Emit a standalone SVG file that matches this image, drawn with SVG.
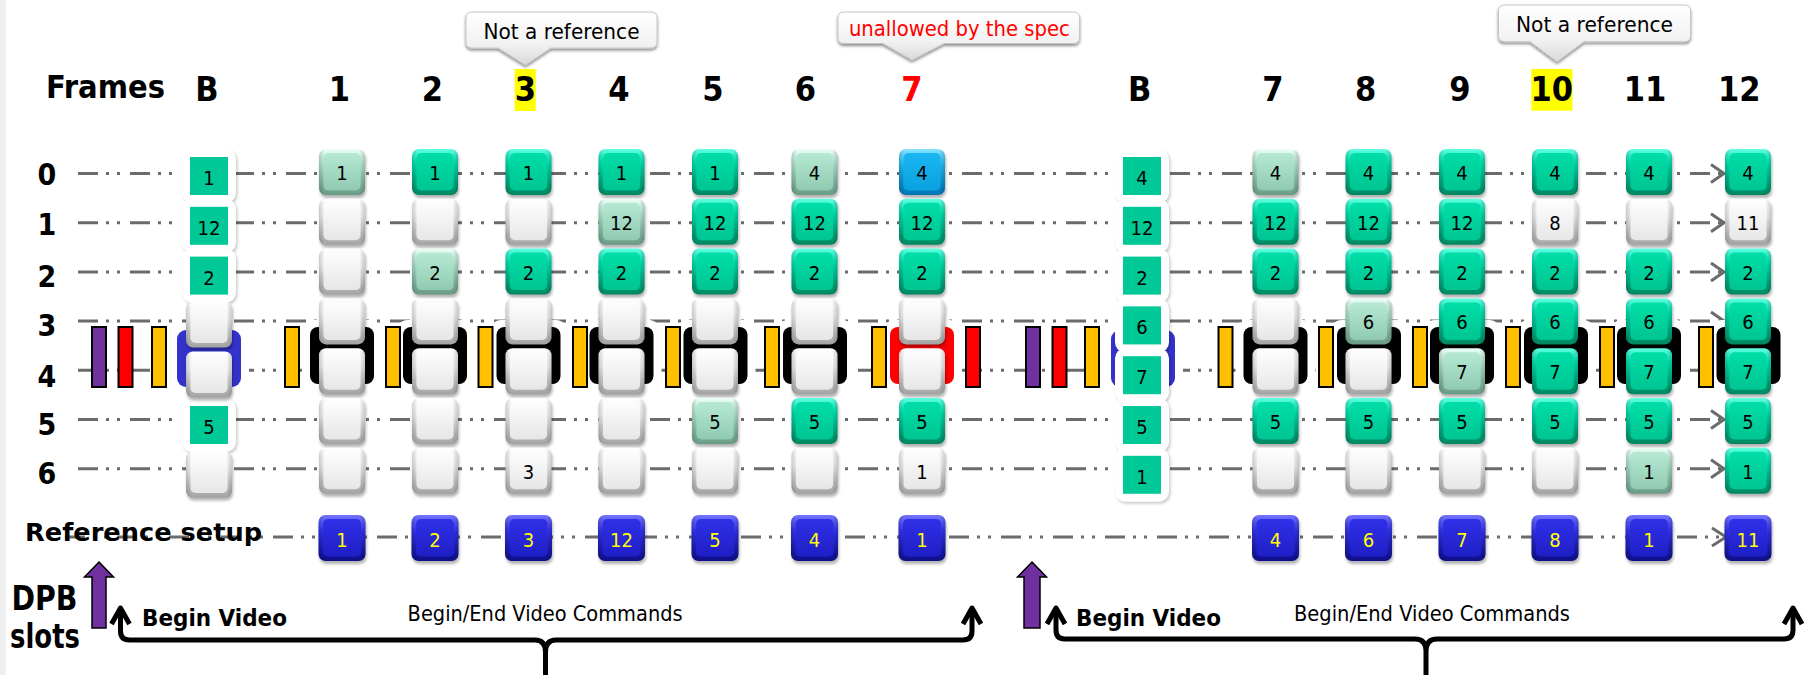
<svg xmlns="http://www.w3.org/2000/svg" width="1804" height="675" viewBox="0 0 1804 675">
<defs>
<style>
.hd{font-family:"DejaVu Sans Condensed","DejaVu Sans",sans-serif;font-weight:bold;font-size:34px;text-anchor:middle;fill:#000}
.rl{font-family:"DejaVu Sans Condensed","DejaVu Sans",sans-serif;font-weight:bold;font-size:30px;text-anchor:middle;fill:#000}
.bl{font-family:"DejaVu Sans Condensed","DejaVu Sans",sans-serif;font-weight:bold;fill:#000}
.nm{font-family:"DejaVu Sans Condensed","DejaVu Sans",sans-serif;fill:#000}
.bt{font-family:"DejaVu Sans Condensed","DejaVu Sans",sans-serif;font-size:20px;text-anchor:middle;fill:#000}
.rt{font-family:"DejaVu Sans Condensed","DejaVu Sans",sans-serif;font-size:20px;text-anchor:middle;fill:#ff0}
.ct{font-family:"DejaVu Sans Condensed","DejaVu Sans",sans-serif;font-size:21px;text-anchor:middle;fill:#000}
.ln{fill:none;stroke:#6b6b6b;stroke-width:3;stroke-dasharray:20 8 3 8 3 10}
.ah{fill:none;stroke:#6b6b6b;stroke-width:3}
.bar{stroke:#000;stroke-width:2}
.br{fill:none;stroke:#000;stroke-width:5;stroke-linejoin:round}
.call{fill:url(#callG);stroke:#c6c6c6;stroke-width:1;filter:url(#csh)}
.flat{fill:#00c896}
.side{fill:url(#sideG)}
</style>
<filter id="sh" x="-30%" y="-30%" width="160%" height="170%"><feGaussianBlur stdDeviation="1.6"/></filter>
<filter id="csh" x="-10%" y="-30%" width="120%" height="170%"><feDropShadow dx="0" dy="2" stdDeviation="1.5" flood-color="#000" flood-opacity="0.45"/></filter>
<linearGradient id="callG" x1="0" y1="0" x2="0" y2="1"><stop offset="0" stop-color="#ffffff"/><stop offset="0.6" stop-color="#f2f2f2"/><stop offset="1" stop-color="#d9d9d9"/></linearGradient>
<linearGradient id="sideG" x1="0" y1="0" x2="1" y2="0"><stop offset="0" stop-color="#000" stop-opacity="0.16"/><stop offset="0.12" stop-color="#000" stop-opacity="0"/><stop offset="0.88" stop-color="#000" stop-opacity="0"/><stop offset="1" stop-color="#000" stop-opacity="0.16"/></linearGradient>
<linearGradient id="gRim" x1="0" y1="0" x2="0" y2="1"><stop offset="0" stop-color="#62ffe2"/><stop offset="0.3" stop-color="#00e2b0"/><stop offset="1" stop-color="#008660"/></linearGradient>
<linearGradient id="gFace" x1="0" y1="0" x2="0" y2="1"><stop offset="0" stop-color="#00dea8"/><stop offset="1" stop-color="#00c592"/></linearGradient>
<linearGradient id="wRim" x1="0" y1="0" x2="0" y2="1"><stop offset="0" stop-color="#ffffff"/><stop offset="0.4" stop-color="#ececec"/><stop offset="1" stop-color="#a2a2a2"/></linearGradient>
<linearGradient id="wFace" x1="0" y1="0" x2="0" y2="1"><stop offset="0" stop-color="#fdfdfd"/><stop offset="1" stop-color="#e6e6e6"/></linearGradient>
<linearGradient id="pRim" x1="0" y1="0" x2="0" y2="1"><stop offset="0" stop-color="#ecfff7"/><stop offset="0.35" stop-color="#aee2cc"/><stop offset="1" stop-color="#689a84"/></linearGradient>
<linearGradient id="pFace" x1="0" y1="0" x2="0" y2="1"><stop offset="0" stop-color="#b6e9d3"/><stop offset="1" stop-color="#90cab2"/></linearGradient>
<linearGradient id="cRim" x1="0" y1="0" x2="0" y2="1"><stop offset="0" stop-color="#86e4ff"/><stop offset="0.35" stop-color="#20baf2"/><stop offset="1" stop-color="#0074b4"/></linearGradient>
<linearGradient id="cFace" x1="0" y1="0" x2="0" y2="1"><stop offset="0" stop-color="#1ab6f2"/><stop offset="1" stop-color="#0aa2e0"/></linearGradient>
<linearGradient id="bRim" x1="0" y1="0" x2="0" y2="1"><stop offset="0" stop-color="#7474ff"/><stop offset="0.35" stop-color="#3232ea"/><stop offset="1" stop-color="#0e0e86"/></linearGradient>
<linearGradient id="bFace" x1="0" y1="0" x2="0" y2="1"><stop offset="0" stop-color="#3030e8"/><stop offset="1" stop-color="#1f1fc6"/></linearGradient>
<!-- glossy slot tiles, 46 x 46 -->
<g id="bG"><rect x="1" y="3" width="46" height="46" rx="7" fill="#000" opacity="0.3" filter="url(#sh)"/><rect width="46" height="46" rx="7" fill="url(#gRim)"/><rect class="side" width="46" height="46" rx="7"/><rect x="4.5" y="4" width="37" height="37.5" rx="5" fill="url(#gFace)"/></g>
<g id="bW"><rect x="1" y="3" width="46" height="46" rx="7" fill="#000" opacity="0.3" filter="url(#sh)"/><rect width="46" height="46" rx="7" fill="url(#wRim)"/><rect class="side" width="46" height="46" rx="7"/><rect x="4.5" y="4" width="37" height="37.5" rx="5" fill="url(#wFace)"/></g>
<g id="bP"><rect x="1" y="3" width="46" height="46" rx="7" fill="#000" opacity="0.3" filter="url(#sh)"/><rect width="46" height="46" rx="7" fill="url(#pRim)"/><rect class="side" width="46" height="46" rx="7"/><rect x="4.5" y="4" width="37" height="37.5" rx="5" fill="url(#pFace)"/></g>
<g id="bC"><rect x="1" y="3" width="46" height="46" rx="7" fill="#000" opacity="0.3" filter="url(#sh)"/><rect width="46" height="46" rx="7" fill="url(#cRim)"/><rect class="side" width="46" height="46" rx="7"/><rect x="4.5" y="4" width="37" height="37.5" rx="5" fill="url(#cFace)"/></g>
<g id="bB"><rect x="1" y="3" width="47" height="46" rx="7" fill="#000" opacity="0.3" filter="url(#sh)"/><rect width="47" height="46" rx="7" fill="url(#bRim)"/><rect class="side" width="47" height="46" rx="7"/><rect x="4.5" y="4" width="38" height="37.5" rx="5" fill="url(#bFace)"/></g>
<!-- white frame around a flat begin-video slot -->
<g id="fr"><rect x="1.5" y="2" width="54" height="54" rx="10" fill="#000" opacity="0.2" filter="url(#sh)"/><rect width="54" height="54" rx="10" fill="#fff"/></g>
<!-- black bracket behind slots 3/4 -->
<g id="hk"><rect x="-40" y="320" width="80" height="71" rx="13" fill="#fff"/><rect x="-32" y="327" width="64" height="57" rx="8" fill="#000"/></g>
<g id="hr"><rect x="-40" y="320" width="80" height="71" rx="13" fill="#fff"/><rect x="-32" y="327" width="64" height="57" rx="8" fill="#f00"/></g>
<g id="hb"><rect x="-40" y="323" width="80" height="72" rx="13" fill="#fff"/><rect x="-32" y="330" width="64" height="57" rx="9" fill="#3333cc"/></g>
</defs>

<rect width="1804" height="675" fill="#fff"/>
<rect width="6" height="675" fill="#efefef"/>

<!-- header -->
<g id="header">
<text class="bl" x="46" y="98" font-size="32" textLength="119" lengthAdjust="spacingAndGlyphs">Frames</text>
<rect x="514.7" y="69" width="21" height="42" fill="#ffff00"/>
<rect x="1531.3" y="69" width="41.2" height="41.7" fill="#ffff00"/>
<text class="hd" x="207" y="101">B</text>
<text class="hd" x="339.5" y="101">1</text>
<text class="hd" x="432.5" y="101">2</text>
<text class="hd" x="525.4" y="101">3</text>
<text class="hd" x="619" y="101">4</text>
<text class="hd" x="713" y="101">5</text>
<text class="hd" x="805.5" y="101">6</text>
<text class="hd" x="912" y="101" style="fill:#f00">7</text>
<text class="hd" x="1139.6" y="101">B</text>
<text class="hd" x="1273" y="101">7</text>
<text class="hd" x="1365.6" y="101">8</text>
<text class="hd" x="1460" y="101">9</text>
<text class="hd" x="1551.7" y="101">10</text>
<text class="hd" x="1645" y="101">11</text>
<text class="hd" x="1739.3" y="101">12</text>
</g>

<!-- callouts -->
<g id="callout-3">
<path class="call" d="M472,12 H651 Q657,12 657,18 V42 Q657,48 651,48 H551 L525.5,65 L498,48 H472 Q466,48 466,42 V18 Q466,12 472,12 Z"/>
<text class="ct" x="561.5" y="39" textLength="156" lengthAdjust="spacingAndGlyphs">Not a reference</text>
</g>
<g id="callout-7">
<path class="call" d="M844,12 H1073.5 Q1079.5,12 1079.5,18 V37.5 Q1079.5,43.5 1073.5,43.5 H944 L912,60 L883,43.5 H844 Q838,43.5 838,37.5 V18 Q838,12 844,12 Z"/>
<text class="ct" x="959.4" y="36" style="fill:#f00" textLength="221" lengthAdjust="spacingAndGlyphs">unallowed by the spec</text>
</g>
<g id="callout-10">
<path class="call" d="M1504.5,5 H1684.5 Q1690.5,5 1690.5,11 V35.7 Q1690.5,41.7 1684.5,41.7 H1584 L1557,61.7 L1530,41.7 H1504.5 Q1498.5,41.7 1498.5,35.7 V11 Q1498.5,5 1504.5,5 Z"/>
<text class="ct" x="1594.5" y="32" textLength="157" lengthAdjust="spacingAndGlyphs">Not a reference</text>
</g>

<!-- slot row labels -->
<g id="slot-labels">
<text class="rl" x="47" y="185">0</text>
<text class="rl" x="47" y="235">1</text>
<text class="rl" x="47" y="286.5">2</text>
<text class="rl" x="47" y="336">3</text>
<text class="rl" x="47" y="386.5">4</text>
<text class="rl" x="47" y="435">5</text>
<text class="rl" x="47" y="484">6</text>
</g>

<!-- slot timelines -->
<g id="connectors">
<path class="ln" d="M78,173.5 H1722"/>
<path class="ln" d="M78,222.7 H1722"/>
<path class="ln" d="M78,271.9 H1722"/>
<path class="ln" d="M78,321.1 H1722"/>
<path class="ln" d="M78,370.3 H1722"/>
<path class="ln" d="M78,419.5 H1722"/>
<path class="ln" d="M78,468.7 H1722"/>
<path class="ln" d="M65,537 H1724"/>
<path class="ah" d="M1711,164.5 L1724,173.5 L1711,182.5"/>
<path class="ah" d="M1711,213.7 L1724,222.7 L1711,231.7"/>
<path class="ah" d="M1711,262.9 L1724,271.9 L1711,280.9"/>
<path class="ah" d="M1711,312.1 L1724,321.1 L1711,330.1"/>
<path class="ah" d="M1711,361.3 L1724,370.3 L1711,379.3"/>
<path class="ah" d="M1711,410.5 L1724,419.5 L1711,428.5"/>
<path class="ah" d="M1711,459.7 L1724,468.7 L1711,477.7"/>
<path class="ah" d="M1712,528 L1726,537 L1712,546"/>
</g>

<!-- brackets behind slots 3/4 -->
<g id="brackets">
<use href="#hk" x="342"/>
<use href="#hk" x="435"/>
<use href="#hk" x="528.5"/>
<use href="#hk" x="621.5"/>
<use href="#hk" x="715.5"/>
<use href="#hk" x="815"/>
<use href="#hr" x="922"/>
<use href="#hk" x="1275.5"/>
<use href="#hk" x="1369"/>
<use href="#hk" x="1462"/>
<use href="#hk" x="1556"/>
<use href="#hk" x="1649"/>
<use href="#hk" x="1748.5"/>
</g>

<!-- command markers -->
<g id="markers">
<rect class="bar" x="92" y="327" width="14" height="60" fill="#7030a0"/>
<rect class="bar" x="118.5" y="327" width="14" height="60" fill="#ff0000"/>
<rect class="bar" x="152" y="327" width="14" height="60" fill="#ffc000"/>
<rect class="bar" x="285" y="327" width="14" height="60" fill="#ffc000"/>
<rect class="bar" x="386" y="327" width="14" height="60" fill="#ffc000"/>
<rect class="bar" x="478.5" y="327" width="14" height="60" fill="#ffc000"/>
<rect class="bar" x="573" y="327" width="14" height="60" fill="#ffc000"/>
<rect class="bar" x="666" y="327" width="14" height="60" fill="#ffc000"/>
<rect class="bar" x="765" y="327" width="14" height="60" fill="#ffc000"/>
<rect class="bar" x="872" y="327" width="14" height="60" fill="#ffc000"/>
<rect class="bar" x="966" y="327" width="14" height="60" fill="#ff0000"/>
<rect class="bar" x="1026" y="327" width="14" height="60" fill="#7030a0"/>
<rect class="bar" x="1052.5" y="327" width="14" height="60" fill="#ff0000"/>
<rect class="bar" x="1085" y="327" width="14" height="60" fill="#ffc000"/>
<rect class="bar" x="1218.5" y="327" width="14" height="60" fill="#ffc000"/>
<rect class="bar" x="1319" y="327" width="14" height="60" fill="#ffc000"/>
<rect class="bar" x="1413" y="327" width="14" height="60" fill="#ffc000"/>
<rect class="bar" x="1506" y="327" width="14" height="60" fill="#ffc000"/>
<rect class="bar" x="1600" y="327" width="14" height="60" fill="#ffc000"/>
<rect class="bar" x="1699" y="327" width="14" height="60" fill="#ffc000"/>
</g>

<!-- begin video state, first sequence -->
<g id="frame-B1">
<g id="B1s0"><use href="#fr" x="182" y="149"/><rect class="flat" x="190" y="157" width="38" height="38"/><text class="bt" x="209" y="185">1</text></g>
<g id="B1s1"><use href="#fr" x="182" y="198.8"/><rect class="flat" x="190" y="206.8" width="38" height="38"/><text class="bt" x="209" y="234.8">12</text></g>
<g id="B1s2"><use href="#fr" x="182" y="248.6"/><rect class="flat" x="190" y="256.6" width="38" height="38"/><text class="bt" x="209" y="284.6">2</text></g>
<g id="B1s5"><use href="#fr" x="182" y="398"/><rect class="flat" x="190" y="406" width="38" height="38"/><text class="bt" x="209" y="434">5</text></g>
<use href="#hb" x="209"/>
<use id="B1s3" href="#bW" x="186" y="301.5"/>
<use id="B1s4" href="#bW" x="186" y="351.5"/>
<use id="B1s6" href="#bW" x="186" y="451.5"/>
</g>

<!-- frame 1 -->
<g id="frame-1">
<g id="f1s0"><use href="#bP" x="319" y="149"/><text class="bt" x="342" y="180">1</text></g>
<use id="f1s1" href="#bW" x="319" y="198.8"/>
<use id="f1s2" href="#bW" x="319" y="248.6"/>
<use id="f1s3" href="#bW" x="319" y="298.4"/>
<use id="f1s4" href="#bW" x="319" y="348.2"/>
<use id="f1s5" href="#bW" x="319" y="398"/>
<use id="f1s6" href="#bW" x="319" y="447.8"/>
</g>
<!-- frame 2 -->
<g id="frame-2">
<g id="f2s0"><use href="#bG" x="412" y="149"/><text class="bt" x="435" y="180">1</text></g>
<use id="f2s1" href="#bW" x="412" y="198.8"/>
<g id="f2s2"><use href="#bP" x="412" y="248.6"/><text class="bt" x="435" y="279.6">2</text></g>
<use id="f2s3" href="#bW" x="412" y="298.4"/>
<use id="f2s4" href="#bW" x="412" y="348.2"/>
<use id="f2s5" href="#bW" x="412" y="398"/>
<use id="f2s6" href="#bW" x="412" y="447.8"/>
</g>
<!-- frame 3 -->
<g id="frame-3">
<g id="f3s0"><use href="#bG" x="505.5" y="149"/><text class="bt" x="528.5" y="180">1</text></g>
<use id="f3s1" href="#bW" x="505.5" y="198.8"/>
<g id="f3s2"><use href="#bG" x="505.5" y="248.6"/><text class="bt" x="528.5" y="279.6">2</text></g>
<use id="f3s3" href="#bW" x="505.5" y="298.4"/>
<use id="f3s4" href="#bW" x="505.5" y="348.2"/>
<use id="f3s5" href="#bW" x="505.5" y="398"/>
<g id="f3s6"><use href="#bW" x="505.5" y="447.8"/><text class="bt" x="528.5" y="478.8">3</text></g>
</g>
<!-- frame 4 -->
<g id="frame-4">
<g id="f4s0"><use href="#bG" x="598.5" y="149"/><text class="bt" x="621.5" y="180">1</text></g>
<g id="f4s1"><use href="#bP" x="598.5" y="198.8"/><text class="bt" x="621.5" y="229.8">12</text></g>
<g id="f4s2"><use href="#bG" x="598.5" y="248.6"/><text class="bt" x="621.5" y="279.6">2</text></g>
<use id="f4s3" href="#bW" x="598.5" y="298.4"/>
<use id="f4s4" href="#bW" x="598.5" y="348.2"/>
<use id="f4s5" href="#bW" x="598.5" y="398"/>
<use id="f4s6" href="#bW" x="598.5" y="447.8"/>
</g>
<!-- frame 5 -->
<g id="frame-5">
<g id="f5s0"><use href="#bG" x="692" y="149"/><text class="bt" x="715" y="180">1</text></g>
<g id="f5s1"><use href="#bG" x="692" y="198.8"/><text class="bt" x="715" y="229.8">12</text></g>
<g id="f5s2"><use href="#bG" x="692" y="248.6"/><text class="bt" x="715" y="279.6">2</text></g>
<use id="f5s3" href="#bW" x="692" y="298.4"/>
<use id="f5s4" href="#bW" x="692" y="348.2"/>
<g id="f5s5"><use href="#bP" x="692" y="398"/><text class="bt" x="715" y="429">5</text></g>
<use id="f5s6" href="#bW" x="692" y="447.8"/>
</g>
<!-- frame 6 -->
<g id="frame-6">
<g id="f6s0"><use href="#bP" x="791.5" y="149"/><text class="bt" x="814.5" y="180">4</text></g>
<g id="f6s1"><use href="#bG" x="791.5" y="198.8"/><text class="bt" x="814.5" y="229.8">12</text></g>
<g id="f6s2"><use href="#bG" x="791.5" y="248.6"/><text class="bt" x="814.5" y="279.6">2</text></g>
<use id="f6s3" href="#bW" x="791.5" y="298.4"/>
<use id="f6s4" href="#bW" x="791.5" y="348.2"/>
<g id="f6s5"><use href="#bG" x="791.5" y="398"/><text class="bt" x="814.5" y="429">5</text></g>
<use id="f6s6" href="#bW" x="791.5" y="447.8"/>
</g>
<!-- frame 7 (first sequence) -->
<g id="frame-7a">
<g id="f7as0"><use href="#bC" x="899" y="149"/><text class="bt" x="922" y="180">4</text></g>
<g id="f7as1"><use href="#bG" x="899" y="198.8"/><text class="bt" x="922" y="229.8">12</text></g>
<g id="f7as2"><use href="#bG" x="899" y="248.6"/><text class="bt" x="922" y="279.6">2</text></g>
<use id="f7as3" href="#bW" x="899" y="298.4"/>
<use id="f7as4" href="#bW" x="899" y="348.2"/>
<g id="f7as5"><use href="#bG" x="899" y="398"/><text class="bt" x="922" y="429">5</text></g>
<g id="f7as6"><use href="#bW" x="899" y="447.8"/><text class="bt" x="922" y="478.8">1</text></g>
</g>

<!-- begin video state, second sequence -->
<g id="frame-B2">
<use href="#hb" x="1143"/>
<g id="B2s0"><use href="#fr" x="1115" y="149"/><rect class="flat" x="1123" y="157" width="38" height="38"/><text class="bt" x="1142" y="185">4</text></g>
<g id="B2s1"><use href="#fr" x="1115" y="198.8"/><rect class="flat" x="1123" y="206.8" width="38" height="38"/><text class="bt" x="1142" y="234.8">12</text></g>
<g id="B2s2"><use href="#fr" x="1115" y="248.6"/><rect class="flat" x="1123" y="256.6" width="38" height="38"/><text class="bt" x="1142" y="284.6">2</text></g>
<g id="B2s3"><use href="#fr" x="1115" y="298.4"/><rect class="flat" x="1123" y="306.4" width="38" height="38"/><text class="bt" x="1142" y="334.4">6</text></g>
<g id="B2s4"><use href="#fr" x="1115" y="348.2"/><rect class="flat" x="1123" y="356.2" width="38" height="38"/><text class="bt" x="1142" y="384.2">7</text></g>
<g id="B2s5"><use href="#fr" x="1115" y="398"/><rect class="flat" x="1123" y="406" width="38" height="38"/><text class="bt" x="1142" y="434">5</text></g>
<g id="B2s6"><use href="#fr" x="1115" y="447.8"/><rect class="flat" x="1123" y="455.8" width="38" height="38"/><text class="bt" x="1142" y="483.8">1</text></g>
</g>

<!-- frame 7 (second sequence) -->
<g id="frame-7b">
<g id="f7bs0"><use href="#bP" x="1252.5" y="149"/><text class="bt" x="1275.5" y="180">4</text></g>
<g id="f7bs1"><use href="#bG" x="1252.5" y="198.8"/><text class="bt" x="1275.5" y="229.8">12</text></g>
<g id="f7bs2"><use href="#bG" x="1252.5" y="248.6"/><text class="bt" x="1275.5" y="279.6">2</text></g>
<use id="f7bs3" href="#bW" x="1252.5" y="298.4"/>
<use id="f7bs4" href="#bW" x="1252.5" y="348.2"/>
<g id="f7bs5"><use href="#bG" x="1252.5" y="398"/><text class="bt" x="1275.5" y="429">5</text></g>
<use id="f7bs6" href="#bW" x="1252.5" y="447.8"/>
</g>
<!-- frame 8 -->
<g id="frame-8">
<g id="f8s0"><use href="#bG" x="1345.5" y="149"/><text class="bt" x="1368.5" y="180">4</text></g>
<g id="f8s1"><use href="#bG" x="1345.5" y="198.8"/><text class="bt" x="1368.5" y="229.8">12</text></g>
<g id="f8s2"><use href="#bG" x="1345.5" y="248.6"/><text class="bt" x="1368.5" y="279.6">2</text></g>
<g id="f8s3"><use href="#bP" x="1345.5" y="298.4"/><text class="bt" x="1368.5" y="329.4">6</text></g>
<use id="f8s4" href="#bW" x="1345.5" y="348.2"/>
<g id="f8s5"><use href="#bG" x="1345.5" y="398"/><text class="bt" x="1368.5" y="429">5</text></g>
<use id="f8s6" href="#bW" x="1345.5" y="447.8"/>
</g>
<!-- frame 9 -->
<g id="frame-9">
<g id="f9s0"><use href="#bG" x="1439" y="149"/><text class="bt" x="1462" y="180">4</text></g>
<g id="f9s1"><use href="#bG" x="1439" y="198.8"/><text class="bt" x="1462" y="229.8">12</text></g>
<g id="f9s2"><use href="#bG" x="1439" y="248.6"/><text class="bt" x="1462" y="279.6">2</text></g>
<g id="f9s3"><use href="#bG" x="1439" y="298.4"/><text class="bt" x="1462" y="329.4">6</text></g>
<g id="f9s4"><use href="#bP" x="1439" y="348.2"/><text class="bt" x="1462" y="379.2">7</text></g>
<g id="f9s5"><use href="#bG" x="1439" y="398"/><text class="bt" x="1462" y="429">5</text></g>
<use id="f9s6" href="#bW" x="1439" y="447.8"/>
</g>
<!-- frame 10 -->
<g id="frame-10">
<g id="f10s0"><use href="#bG" x="1532" y="149"/><text class="bt" x="1555" y="180">4</text></g>
<g id="f10s1"><use href="#bW" x="1532" y="198.8"/><text class="bt" x="1555" y="229.8">8</text></g>
<g id="f10s2"><use href="#bG" x="1532" y="248.6"/><text class="bt" x="1555" y="279.6">2</text></g>
<g id="f10s3"><use href="#bG" x="1532" y="298.4"/><text class="bt" x="1555" y="329.4">6</text></g>
<g id="f10s4"><use href="#bG" x="1532" y="348.2"/><text class="bt" x="1555" y="379.2">7</text></g>
<g id="f10s5"><use href="#bG" x="1532" y="398"/><text class="bt" x="1555" y="429">5</text></g>
<use id="f10s6" href="#bW" x="1532" y="447.8"/>
</g>
<!-- frame 11 -->
<g id="frame-11">
<g id="f11s0"><use href="#bG" x="1626" y="149"/><text class="bt" x="1649" y="180">4</text></g>
<use id="f11s1" href="#bW" x="1626" y="198.8"/>
<g id="f11s2"><use href="#bG" x="1626" y="248.6"/><text class="bt" x="1649" y="279.6">2</text></g>
<g id="f11s3"><use href="#bG" x="1626" y="298.4"/><text class="bt" x="1649" y="329.4">6</text></g>
<g id="f11s4"><use href="#bG" x="1626" y="348.2"/><text class="bt" x="1649" y="379.2">7</text></g>
<g id="f11s5"><use href="#bG" x="1626" y="398"/><text class="bt" x="1649" y="429">5</text></g>
<g id="f11s6"><use href="#bP" x="1626" y="447.8"/><text class="bt" x="1649" y="478.8">1</text></g>
</g>
<!-- frame 12 -->
<g id="frame-12">
<g id="f12s0"><use href="#bG" x="1725" y="149"/><text class="bt" x="1748" y="180">4</text></g>
<g id="f12s1"><use href="#bW" x="1725" y="198.8"/><text class="bt" x="1748" y="229.8">11</text></g>
<g id="f12s2"><use href="#bG" x="1725" y="248.6"/><text class="bt" x="1748" y="279.6">2</text></g>
<g id="f12s3"><use href="#bG" x="1725" y="298.4"/><text class="bt" x="1748" y="329.4">6</text></g>
<g id="f12s4"><use href="#bG" x="1725" y="348.2"/><text class="bt" x="1748" y="379.2">7</text></g>
<g id="f12s5"><use href="#bG" x="1725" y="398"/><text class="bt" x="1748" y="429">5</text></g>
<g id="f12s6"><use href="#bG" x="1725" y="447.8"/><text class="bt" x="1748" y="478.8">1</text></g>
</g>

<!-- reference setup row -->
<g id="reference-setup">
<text class="bl" x="25" y="541" font-size="24.5" textLength="237" lengthAdjust="spacingAndGlyphs">Reference setup</text>
<g id="r1"><use href="#bB" x="318.5" y="515"/><text class="rt" x="342" y="546.5">1</text></g>
<g id="r2"><use href="#bB" x="411.5" y="515"/><text class="rt" x="435" y="546.5">2</text></g>
<g id="r3"><use href="#bB" x="505" y="515"/><text class="rt" x="528.5" y="546.5">3</text></g>
<g id="r4"><use href="#bB" x="598" y="515"/><text class="rt" x="621.5" y="546.5">12</text></g>
<g id="r5"><use href="#bB" x="691.5" y="515"/><text class="rt" x="715" y="546.5">5</text></g>
<g id="r6"><use href="#bB" x="791" y="515"/><text class="rt" x="814.5" y="546.5">4</text></g>
<g id="r7a"><use href="#bB" x="898.5" y="515"/><text class="rt" x="922" y="546.5">1</text></g>
<g id="r7b"><use href="#bB" x="1252" y="515"/><text class="rt" x="1275.5" y="546.5">4</text></g>
<g id="r8"><use href="#bB" x="1345" y="515"/><text class="rt" x="1368.5" y="546.5">6</text></g>
<g id="r9"><use href="#bB" x="1438.5" y="515"/><text class="rt" x="1462" y="546.5">7</text></g>
<g id="r10"><use href="#bB" x="1531.5" y="515"/><text class="rt" x="1555" y="546.5">8</text></g>
<g id="r11"><use href="#bB" x="1625.5" y="515"/><text class="rt" x="1649" y="546.5">1</text></g>
<g id="r12"><use href="#bB" x="1724.5" y="515"/><text class="rt" x="1748" y="546.5">11</text></g>
</g>

<!-- legend and video session braces -->
<g id="dpb-legend">
<text class="bl" x="11.5" y="610" font-size="34" textLength="66" lengthAdjust="spacingAndGlyphs">DPB</text>
<text class="bl" x="10" y="648" font-size="34" textLength="70" lengthAdjust="spacingAndGlyphs">slots</text>
<path d="M99,562 L113.5,577 L106,577 L106,628 L92,628 L92,577 L84.5,577 Z" fill="#7030a0" stroke="#000" stroke-width="1.5"/>
</g>
<g id="session-1">
<path class="br" d="M120.5,609 V631 Q120.5,640 129.5,640 H535 Q545.5,640 545.5,652 V675 M545.5,652 Q545.5,640 556,640 H963 Q972,640 972,631 V609"/>
<path class="br" d="M111.5,624 L120.5,608 L129.5,624 M963,624 L972,608 L981,624"/>
<text class="bl" x="142" y="626" font-size="23" textLength="145" lengthAdjust="spacingAndGlyphs">Begin Video</text>
<text class="nm" x="407.6" y="620.5" font-size="21" textLength="275" lengthAdjust="spacingAndGlyphs">Begin/End Video Commands</text>
</g>
<g id="session-2">
<path d="M1032,562 L1046.5,577 L1040,577 L1040,628 L1024,628 L1024,577 L1017.5,577 Z" fill="#7030a0" stroke="#000" stroke-width="1.5"/>
<path class="br" d="M1056,609 V630 Q1056,639 1065,639 H1415 Q1426,639 1426,651 V675 M1426,651 Q1426,639 1437,639 H1784 Q1793,639 1793,630 V609"/>
<path class="br" d="M1047,624 L1056,608 L1065,624 M1784,624 L1793,608 L1802,624"/>
<text class="bl" x="1076" y="626" font-size="23" textLength="145" lengthAdjust="spacingAndGlyphs">Begin Video</text>
<text class="nm" x="1294" y="620.5" font-size="21" textLength="276" lengthAdjust="spacingAndGlyphs">Begin/End Video Commands</text>
</g>
</svg>
